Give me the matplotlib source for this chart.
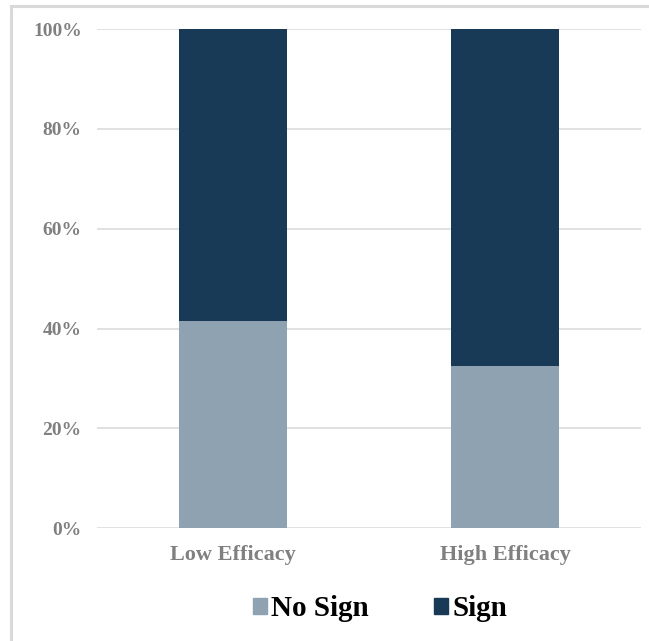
import matplotlib.pyplot as plt
from matplotlib.lines import Line2D
from matplotlib.patches import Patch
import numpy as np

# share of respondents by efficacy group
groups = ['Low Efficacy', 'High Efficacy']
no_sign = [0.415, 0.326]
sign = [1 - v for v in no_sign]
yticks = [0, 0.2, 0.4, 0.6, 0.8, 1.0]
ytick_labels = ['0%', '20%', '40%', '60%', '80%', '100%']

col_nosign = '#8fa2b1'
col_sign = '#183a56'

plt.rcParams['font.family'] = ['Liberation Serif', 'DejaVu Serif']

W, H = 649, 641
fig = plt.figure(figsize=(W/100, H/100), dpi=100)
ax = fig.add_axes([97/W, 1-528.3/H, (641-97)/W, (528.3-29)/H])

x = np.arange(len(groups))
ax.bar(x, no_sign, width=0.4, color=col_nosign, zorder=3)
ax.bar(x, sign, width=0.4, bottom=no_sign, color=col_sign, zorder=3)

ax.set_xlim(-0.5, 1.5)
ax.set_ylim(0, 1)
ax.set_yticks(yticks)
ax.set_yticklabels(ytick_labels)
ax.set_xticks(x)
ax.set_xticklabels(groups)
ax.grid(axis='y', color='#d9d9d9', linewidth=1.1, zorder=0)
for s in ax.spines.values():
    s.set_visible(False)
ax.tick_params(length=0)
ax.tick_params(axis='y', pad=11, labelsize=14, labelcolor='#808080')
ax.tick_params(axis='x', pad=12, labelsize=16, labelcolor='#808080')
for lab in ax.get_xticklabels() + ax.get_yticklabels():
    lab.set_fontweight('bold')

handles = [Patch(color=col_nosign, label='No Sign'), Patch(color=col_sign, label='Sign')]
fig.legend(handles=handles, loc='center', bbox_to_anchor=(380/W, 1-609/H), ncol=2,
           frameon=False, prop={'size': 21, 'weight': 'bold'},
           handlelength=0.48, handleheight=0.48, handletextpad=0.14, columnspacing=2.26)

# light frame on left and top edges
fig.add_artist(Line2D([11/W, 11/W], [0, 1-6/H], color='#d9d9d9', linewidth=2.2))
fig.add_artist(Line2D([11/W, 1], [1-6/H, 1-6/H], color='#d9d9d9', linewidth=2.2))

fig.savefig('out.png', dpi=100)
